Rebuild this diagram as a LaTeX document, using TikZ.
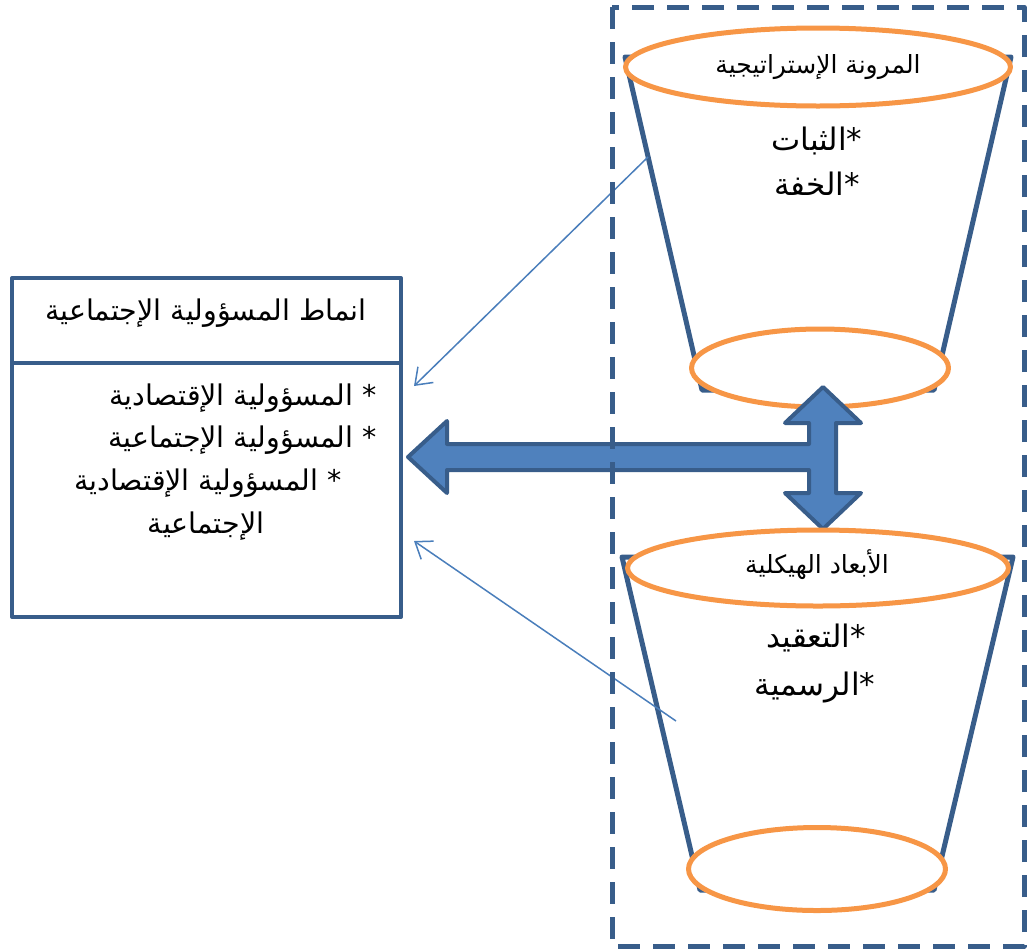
\documentclass[tikz,border=0pt]{standalone}
\usepackage{fontspec}
\usepackage{tikz}
\usetikzlibrary{shapes.geometric,arrows.meta,positioning}
\newfontfamily\arabicfont[Script=Arabic]{DejaVu Sans}
\TeXXeTstate=1

\begin{document}
\begin{tikzpicture}[x=1pt,y=-1pt,line join=round,>={Straight Barb[length=15pt,width=22pt]}]
  % Colors
  \definecolor{framecolor}{HTML}{385D8A}
  \definecolor{fillcolor}{HTML}{4F81BD}
  \definecolor{rimcolor}{HTML}{F79646}
  \definecolor{linkcolor}{HTML}{4A7EBB}

  % Styles
  \tikzstyle{funnel}=[draw=framecolor,line width=5pt,fill=white]
  \tikzstyle{rim}=[ellipse,draw=rimcolor,line width=5pt,fill=white,inner sep=0pt]
  \tikzstyle{big arrow}=[draw=framecolor,line width=4pt,fill=fillcolor]
  \tikzstyle{link}=[draw=linkcolor,line width=1.5pt,->]
  \tikzstyle{box}=[draw=framecolor,line width=4pt,rectangle,inner sep=0pt,outer sep=0pt]
  \tikzstyle{frame}=[draw=framecolor,line width=5pt,dash pattern=on 22pt off 13pt]
  \tikzstyle{rim text}=[inner sep=0pt,anchor=base,font=\arabicfont\fontsize{25}{30}\selectfont]
  \tikzstyle{item text}=[inner sep=0pt,anchor=base,font=\arabicfont\fontsize{31}{37}\selectfont]
  \tikzstyle{box text}=[inner sep=0pt,font=\arabicfont\fontsize{28.5}{34}\selectfont]

  \useasboundingbox (0,0) rectangle (1027,951);

  % Upper funnel
  \draw[funnel] (625,57) -- (1011,57) -- (934,390) -- (702,390) -- cycle;
  \node[rim,minimum width=385pt,minimum height=78pt] (flextop) at (818,67) {};
  \node[rim,minimum width=257pt,minimum height=78pt] (flexbot) at (820,368) {};
  \node[rim text] (flex) at (818,73) {\beginR المرونة الإستراتيجية\endR};
  \node[item text] (stable) at (817,150) {\beginR *الثبات\endR};
  \node[item text] (light) at (817,195) {\beginR *الخفة\endR};

  % The block arrow
  \draw[big arrow] (408,457) -- (447,421) -- (447,444) -- (809,444) -- (809,423)
    -- (785,423) -- (823,387) -- (861,423) -- (836,423) -- (836,493) -- (861,493)
    -- (823,529) -- (785,493) -- (809,493) -- (809,470) -- (447,470) -- (447,493) -- cycle;

  % Lower funnel
  \draw[funnel] (622,557) -- (1013,557) -- (934,890) -- (700,890) -- cycle;
  \node[rim,minimum width=381pt,minimum height=76pt] (dimtop) at (818,568) {};
  \node[rim,minimum width=257pt,minimum height=83pt] (dimbot) at (817,869) {};
  \node[rim text] (dims) at (817,573) {\beginR الأبعاد الهيكلية\endR};
  \node[item text] (complex) at (816,647) {\beginR *التعقيد\endR};
  \node[item text] (formal) at (815,695) {\beginR *الرسمية\endR};

  % Thin links
  \coordinate (from1) at (648,157);
  \coordinate (to1) at (414,386);
  \coordinate (from2) at (676,721);
  \coordinate (to2) at (414,541);
  \draw[link] (from1) -- (to1);
  \draw[link] (from2) -- (to2);

  \draw[frame] (612,7) rectangle (1024,946);

  % Left box
  \node[box,minimum width=389pt,minimum height=85pt] (head) at (206.5,320.5) {};
  \node[box,minimum width=389pt,minimum height=254pt,below=0pt of head] (body) {};
  \node[box text,anchor=base] (title) at (206,320) {\beginR انماط المسؤولية الإجتماعية\endR};
  \node[box text,anchor=base east] (line1) at (377,405) {\beginR * المسؤولية الإقتصادية\endR};
  \node[box text,anchor=base east] (line2) at (377,447) {\beginR * المسؤولية الإجتماعية\endR};
  \node[box text,anchor=base east] (line3) at (342,490) {\beginR * المسؤولية الإقتصادية\endR};
  \node[box text,anchor=base] (line4) at (206,533) {\beginR الإجتماعية\endR};

\end{tikzpicture}
\end{document}
